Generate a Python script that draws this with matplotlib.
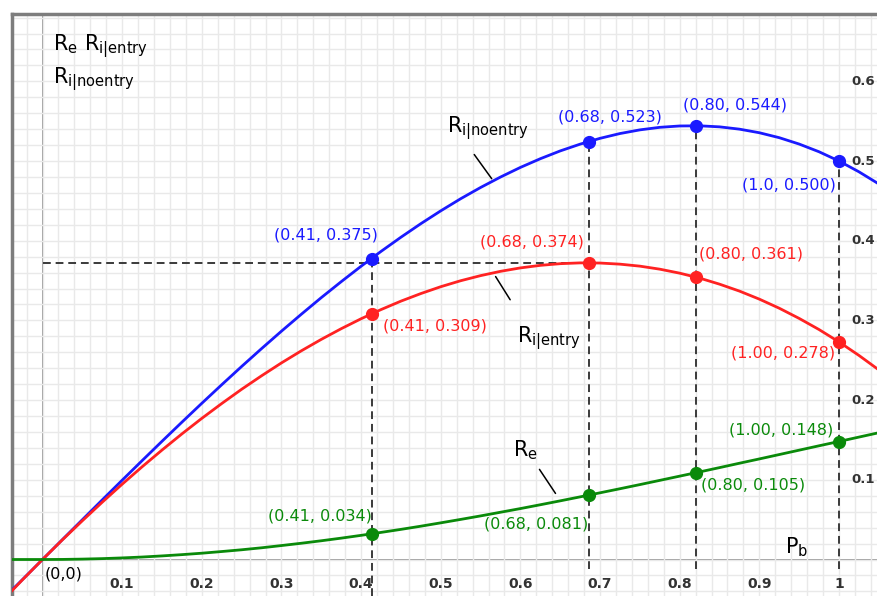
import matplotlib

matplotlib.use("Agg")
import matplotlib.pyplot as plt
from matplotlib.patches import Rectangle
from matplotlib.ticker import MultipleLocator

# curves, every 0.025 along P_b
p_b = [-0.050, -0.025, 0.000, 0.025, 0.050, 0.075, 0.100, 0.125, 0.150, 0.175, 0.200, 0.225,
       0.250, 0.275, 0.300, 0.325, 0.350, 0.375, 0.400, 0.425, 0.450, 0.475, 0.500, 0.525,
       0.550, 0.575, 0.600, 0.625, 0.650, 0.675, 0.700, 0.725, 0.750, 0.775, 0.800, 0.825,
       0.850, 0.875, 0.900, 0.925, 0.950, 0.975, 1.000, 1.025, 1.050]
r_noentry = [-0.0499, -0.0250, 0.0000, 0.0250, 0.0499, 0.0748, 0.0995, 0.1240, 0.1483, 0.1723,
             0.1960, 0.2193, 0.2422, 0.2646, 0.2865, 0.3078, 0.3286, 0.3486, 0.3680, 0.3866,
             0.4044, 0.4214, 0.4375, 0.4527, 0.4668, 0.4799, 0.4920, 0.5029, 0.5127, 0.5212,
             0.5285, 0.5345, 0.5391, 0.5423, 0.5440, 0.5442, 0.5429, 0.5400, 0.5355, 0.5293,
             0.5213, 0.5116, 0.5000, 0.4865, 0.4712]
r_entry = [-0.0513, -0.0253, 0.0000, 0.0247, 0.0486, 0.0719, 0.0945, 0.1163, 0.1373, 0.1576,
           0.1771, 0.1957, 0.2136, 0.2305, 0.2467, 0.2619, 0.2762, 0.2896, 0.3021, 0.3136,
           0.3242, 0.3337, 0.3423, 0.3498, 0.3562, 0.3616, 0.3659, 0.3691, 0.3712, 0.3722,
           0.3720, 0.3706, 0.3681, 0.3643, 0.3593, 0.3531, 0.3455, 0.3368, 0.3267, 0.3153,
           0.3025, 0.2885, 0.2730, 0.2561, 0.2379]
r_e = [0.0000, 0.0000, 0.0000, 0.0001, 0.0005, 0.0011, 0.0020, 0.0031, 0.0045, 0.0061,
       0.0079, 0.0100, 0.0122, 0.0147, 0.0175, 0.0204, 0.0235, 0.0268, 0.0303, 0.0340,
       0.0378, 0.0418, 0.0460, 0.0503, 0.0547, 0.0593, 0.0639, 0.0687, 0.0736, 0.0786,
       0.0837, 0.0888, 0.0940, 0.0993, 0.1046, 0.1099, 0.1153, 0.1208, 0.1262, 0.1317,
       0.1372, 0.1427, 0.1481, 0.1536, 0.1591]

# marked points and their labels
mark_x = [0.414, 0.686, 0.820, 1.000]
mark_noentry = [0.377, 0.524, 0.544, 0.500]
mark_entry = [0.3085, 0.372, 0.354, 0.273]
mark_e = [0.0324, 0.081, 0.109, 0.148]
labels_noentry = ["(0.41, 0.375)", "(0.68, 0.523)", "(0.80, 0.544)", "(1.0, 0.500)"]
labels_entry = ["(0.41, 0.309)", "(0.68, 0.374)", "(0.80, 0.361)", "(1.00, 0.278)"]
labels_e = ["(0.41, 0.034)", "(0.68, 0.081)", "(0.80, 0.105)", "(1.00, 0.148)"]

x_ticks = [0.1, 0.2, 0.3, 0.4, 0.5, 0.6, 0.7, 0.8, 0.9, 1.0]
x_tick_labels = ["0.1", "0.2", "0.3", "0.4", "0.5", "0.6", "0.7", "0.8", "0.9", "1"]
y_ticks = [0.1, 0.2, 0.3, 0.4, 0.5, 0.6]
y_tick_labels = ["0.1", "0.2", "0.3", "0.4", "0.5", "0.6"]

BLUE = "#1a1aff"
RED = "#ff2222"
GREEN = "#0a8a0a"
DASH = "#3a3a3a"

plt.rcParams["font.family"] = ["DejaVu Sans"]

fig = plt.figure(figsize=(8.77, 5.96), dpi=100)
ax = fig.add_axes([12 / 877, 0, 865 / 877, 582 / 596])
ax.set_xlim(-0.0383, 1.0477)
ax.set_ylim(-0.0458, 0.6845)

# GeoGebra style graph paper
ax.xaxis.set_major_locator(MultipleLocator(0.02))
ax.yaxis.set_major_locator(MultipleLocator(0.02))
ax.grid(True, color="#e9e9e9", lw=1.0, zorder=0)
ax.tick_params(length=0, labelbottom=False, labelleft=False)
for side in ("right", "bottom"):
    ax.spines[side].set_visible(False)
for side in ("left", "top"):
    ax.spines[side].set_color("#7d7d7d")
    ax.spines[side].set_linewidth(2.5)

# blank patches left behind by hidden labels in the original screenshot
for x0, y0, w, h in [(0.633, 0.401, 0.168, 0.059), (0.784, 0.5615, 0.167, 0.0615)]:
    ax.add_patch(Rectangle((x0, y0), w, h, facecolor="white", edgecolor="none", zorder=0.5))

ax.axhline(0, color="#8a8a8a", lw=1.2, zorder=1)
ax.axvline(0, color="#8a8a8a", lw=1.2, zorder=1)

for x, lab in zip(x_ticks, x_tick_labels):
    ax.text(x, -0.031, lab, ha="center", va="center", fontsize=10,
            fontweight="bold", color="#333333")
for y, lab in zip(y_ticks, y_tick_labels):
    ax.text(1.016, y, lab, ha="left", va="center", fontsize=9.5,
            fontweight="bold", color="#333333")

# guide lines
dash_kw = dict(color=DASH, lw=1.4, linestyles=(0, (4, 2.5)), zorder=2)
ax.vlines(mark_x[0], -0.046, mark_noentry[0], **dash_kw)
ax.vlines(mark_x[1:], -0.012, mark_noentry[1:], **dash_kw)
ax.hlines(mark_entry[1], 0, mark_x[1], **dash_kw)

# curves and points
for ys, pts, labs, col, offs in [
    (r_noentry, mark_noentry, labels_noentry, BLUE,
     [(-33, 17), (15, 18), (28, 15), (-36, -17)]),
    (r_entry, mark_entry, labels_entry, RED,
     [(45, -9), (-41, 15), (40, 17), (-40, -8)]),
    (r_e, mark_e, labels_e, GREEN,
     [(-38, 13), (-38, -21), (41, -9), (-42, 8)]),
]:
    ax.plot(p_b, ys, color=col, lw=2.0, zorder=3, solid_joinstyle="round")
    ax.plot(mark_x, pts, "o", color=col, ms=8.5, zorder=4)
    for x, y, lab, off in zip(mark_x, pts, labs, offs):
        ax.annotate(lab, (x, y), xytext=off, textcoords="offset points",
                    ha="center", va="center", fontsize=11.5, color=col, zorder=5)

# axis names and curve names
big = dict(fontsize=15, color="black", ha="left", va="baseline")
ax.text(0.013, 0.639, r"$\mathregular{R_e\ R_{i|entry}}$", **big)
ax.text(0.013, 0.597, r"$\mathregular{R_{i|noentry}}$", **big)
ax.text(0.508, 0.536, r"$\mathregular{R_{i|noentry}}$", **big)
ax.text(0.596, 0.273, r"$\mathregular{R_{i|entry}}$", **big)
ax.text(0.591, 0.129, r"$\mathregular{R_e}$", **big)
ax.text(0.932, 0.008, r"$\mathregular{P_b}$", **big)
ax.text(0.003, -0.018, "(0,0)", fontsize=11.5, color="black", ha="left", va="center")

# leader lines from the curve names to the curves
ax.annotate("", (0.566, 0.475), xytext=(0.540, 0.511),
            arrowprops=dict(arrowstyle="-", color="black", lw=1.1))
ax.annotate("", (0.589, 0.323), xytext=(0.567, 0.358),
            arrowprops=dict(arrowstyle="-", color="black", lw=1.1))
ax.annotate("", (0.646, 0.080), xytext=(0.622, 0.116),
            arrowprops=dict(arrowstyle="-", color="black", lw=1.1))

fig.savefig("out.png", dpi=100)
